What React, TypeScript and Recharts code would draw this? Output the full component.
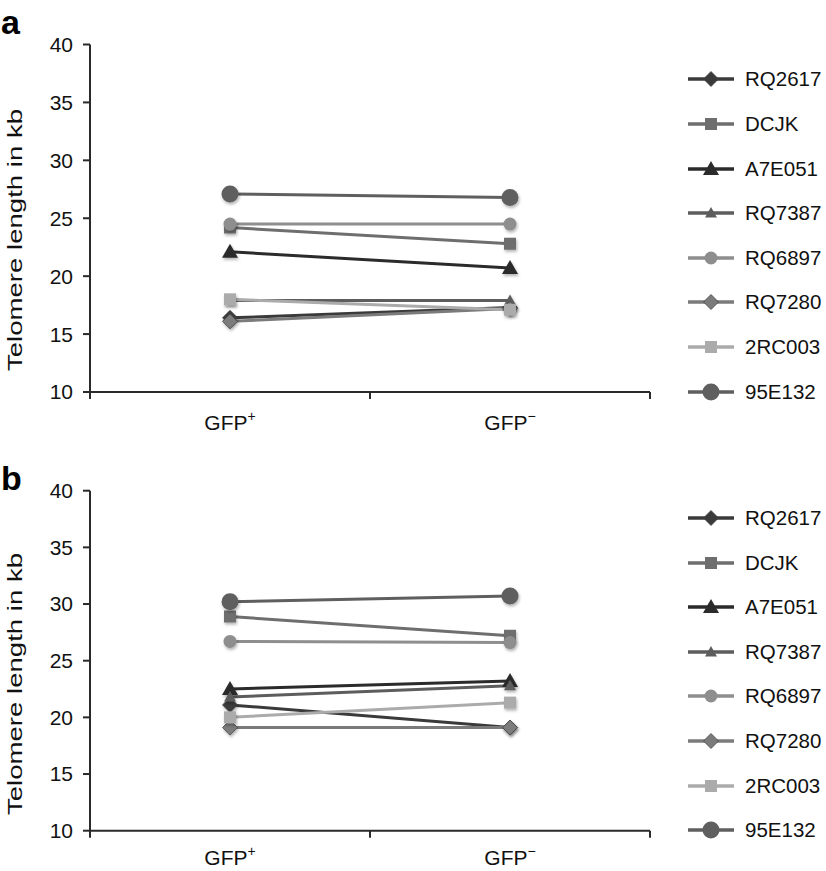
import React from "react";
import { LineChart, Line, XAxis, YAxis, Legend } from "recharts";

const FONT = "'Liberation Sans', Arial, Helvetica, sans-serif";

// Categories and samples
const categories = ["GFP+", "GFP−"];
const samples = ["RQ2617", "DCJK", "A7E051", "RQ7387", "RQ6897", "RQ7280", "2RC003", "95E132"];
const yTicks = [10, 15, 20, 25, 30, 35, 40];

// Panel a values (kb), same order as samples
const panelAPos = [16.4, 24.2, 22.1, 17.9, 24.5, 16.1, 18.0, 27.1];
const panelANeg = [17.3, 22.8, 20.7, 17.9, 24.5, 17.2, 17.1, 26.8];

// Panel b values (kb)
const panelBPos = [21.1, 28.9, 22.5, 21.8, 26.7, 19.1, 20.0, 30.2];
const panelBNeg = [19.1, 27.2, 23.2, 22.8, 26.6, 19.1, 21.3, 30.7];

type Shape = "diamond" | "square" | "triangle" | "circle";

const STYLES: { color: string; shape: Shape; size: number }[] = [
  { color: "#3a3a3a", shape: "diamond", size: 7.5 },
  { color: "#6e6e6e", shape: "square", size: 6 },
  { color: "#2b2b2b", shape: "triangle", size: 8 },
  { color: "#5d5d5d", shape: "triangle", size: 6 },
  { color: "#8e8e8e", shape: "circle", size: 6.5 },
  { color: "#7b7b7b", shape: "diamond", size: 7.5 },
  { color: "#ababab", shape: "square", size: 6 },
  { color: "#5f5f5f", shape: "circle", size: 8.5 },
];

// x: category index + 0.5 so points sit in the middle of each category slot,
// with tick marks on the slot boundaries (Excel style)
function buildRows(pos: number[], neg: number[]) {
  return categories.map((cat, ci) => {
    const vals = ci === 0 ? pos : neg;
    const row: Record<string, string | number> = { cat, x: ci + 0.5 };
    samples.forEach((s, i) => (row[s] = vals[i]));
    return row;
  });
}

const xTicks = [0, 0.5, 1, 1.5, 2];

function Marker({ cx, cy, shape, size, color, shadow = true }: any) {
  const f = shadow ? "url(#mkShadow)" : undefined;
  if (cx == null || cy == null) return null;
  if (shape === "circle") return <circle cx={cx} cy={cy} r={size} fill={color} filter={f} />;
  if (shape === "square")
    return <rect x={cx - size} y={cy - size} width={size * 2} height={size * 2} fill={color} filter={f} />;
  if (shape === "diamond")
    return (
      <path
        d={`M${cx},${cy - size}L${cx + size},${cy}L${cx},${cy + size}L${cx - size},${cy}Z`}
        fill={color}
        stroke="#444"
        strokeWidth={0.8}
        filter={f}
      />
    );
  return (
    <path
      d={`M${cx},${cy - size}L${cx + size},${cy + size * 0.75}L${cx - size},${cy + size * 0.75}Z`}
      fill={color}
      filter={f}
    />
  );
}

function CatTick({ x, y, payload, dy }: any) {
  const val: number = payload.value;
  if (Number.isInteger(val)) {
    return <line x1={x} y1={y} x2={x} y2={y + 7} stroke="#2a2a2a" strokeWidth={2} />;
  }
  const v = categories[Math.floor(val)];
  return (
    <text x={x} y={y + dy} textAnchor="middle" fontFamily={FONT} fontSize={21} fill="#111">
      {v.slice(0, -1)}
      <tspan fontSize={14} dy={-9}>
        {v.slice(-1)}
      </tspan>
    </text>
  );
}

function LegendBox() {
  return (
    <div style={{ fontFamily: FONT, fontSize: 20.5, color: "#111" }}>
      {samples.map((s, i) => (
        <div key={s} style={{ height: 44.6, display: "flex", alignItems: "center" }}>
          <svg width={46} height={20} style={{ overflow: "visible" }}>
            <line x1={0} y1={10} x2={46} y2={10} stroke={STYLES[i].color} strokeWidth={3.5} />
            <Marker cx={23} cy={10} {...STYLES[i]} shadow={false} />
          </svg>
          <span style={{ marginLeft: 11 }}>{s}</span>
        </div>
      ))}
    </div>
  );
}

function Panel({ letter, letterTop, rows, top, height, marginTop, plotH, tickDy, labelY, labelLen, legendTop }: any) {
  const xAxisH = height - marginTop - plotH;
  return (
    <div style={{ position: "absolute", left: 0, top, width: 826, height }}>
      <div
        style={{
          position: "absolute",
          left: 1,
          top: letterTop,
          fontFamily: FONT,
          fontWeight: "bold",
          fontSize: 34,
          lineHeight: "40px",
          color: "#000",
        }}
      >
        {letter}
      </div>
      <LineChart width={826} height={height} data={rows} margin={{ top: marginTop, right: 176, bottom: 0, left: 0 }}>
        <defs>
          <filter id="mkShadow" x="-50%" y="-50%" width="200%" height="200%">
            <feDropShadow dx={1} dy={2} stdDeviation={1.5} floodColor="#000" floodOpacity={0.3} />
          </filter>
        </defs>
        <XAxis
          dataKey="x"
          type="number"
          domain={[0, 2]}
          ticks={xTicks}
          interval={0}
          height={xAxisH}
          tickSize={0}
          tickMargin={0}
          tickLine={false}
          axisLine={{ stroke: "#2a2a2a", strokeWidth: 2 }}
          tick={<CatTick dy={tickDy} />}
        />
        <YAxis
          domain={[10, 40]}
          ticks={yTicks}
          width={90}
          tickSize={7}
          tickMargin={10}
          interval={0}
          axisLine={{ stroke: "#2a2a2a", strokeWidth: 2 }}
          tickLine={{ stroke: "#2a2a2a", strokeWidth: 2 }}
          tick={{ fontFamily: FONT, fontSize: 21, fill: "#111" }}
          label={{
            content: () => (
              <text
                x={22}
                y={labelY}
                transform={`rotate(-90, 22, ${labelY})`}
                textAnchor="middle"
                fontFamily={FONT}
                fontSize={20}
                fill="#111"
                textLength={labelLen}
                lengthAdjust="spacingAndGlyphs"
              >
                Telomere length in kb
              </text>
            ),
          }}
        />
        {samples.map((s, i) => (
          <Line
            key={s}
            dataKey={s}
            stroke={STYLES[i].color}
            strokeWidth={3}
            isAnimationActive={false}
            activeDot={false}
            dot={(p: any) => <Marker key={`${s}-${p.index}`} cx={p.cx} cy={p.cy} {...STYLES[i]} />}
          />
        ))}
        <Legend
          layout="vertical"
          align="center"
          verticalAlign="middle"
          content={() => <LegendBox />}
          wrapperStyle={{ position: "absolute", left: 688, top: legendTop, width: 138 }}
        />
      </LineChart>
    </div>
  );
}

export default function App() {
  const rowsA = buildRows(panelAPos, panelANeg);
  const rowsB = buildRows(panelBPos, panelBNeg);
  return (
    <div style={{ position: "absolute", left: 0, top: 0, width: 826, height: 871, background: "#fff" }}>
      <Panel
        letter="a"
        letterTop={2}
        rows={rowsA}
        top={0}
        height={440}
        marginTop={44.5}
        plotH={347.5}
        tickDy={38}
        labelY={240}
        labelLen={262}
        legendTop={57.2}
      />
      <Panel
        letter="b"
        letterTop={18}
        rows={rowsB}
        top={440}
        height={431}
        marginTop={50.7}
        plotH={340}
        tickDy={34}
        labelY={244}
        labelLen={262}
        legendTop={55.7}
      />
    </div>
  );
}
